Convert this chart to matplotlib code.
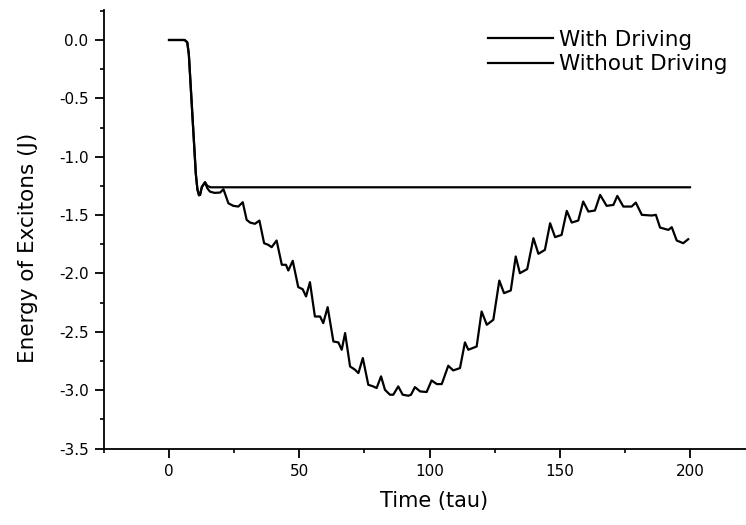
import matplotlib
matplotlib.use("Agg")
import matplotlib.pyplot as plt
from matplotlib.ticker import MultipleLocator, FormatStrFormatter

plt.rcParams['font.family'] = ['DejaVu Sans']
plt.rcParams['axes.unicode_minus'] = False

# ---- data ----
t_with = [0, 6.0, 7.0, 7.6, 10.3, 10.9, 11.5, 11.9, 12.6, 13.8, 14.7, 15.7, 17.5, 19.6, 20.9,
          22.8, 24.7, 26.6, 28.3, 29.8, 31.1, 33.0, 34.7, 36.5, 38.1, 39.4, 41.3,
          43.3, 44.9, 45.8, 47.5, 49.6, 51.3, 52.6, 54.1, 56.0, 58.0, 59.2, 60.9,
          63.1, 65.0, 66.3, 67.6, 69.5, 71.4, 72.7, 74.4, 76.5, 78.4, 79.7, 81.4,
          82.9, 84.8, 86.1, 88.0, 89.7, 91.9, 92.9, 94.4, 96.4, 98.9, 100.8, 102.8,
          104.7, 107.2, 109.1, 111.7, 113.6, 114.9, 118.1, 120.0, 122.0, 124.5,
          126.8, 128.6, 131.2, 133.1, 134.7, 137.5, 139.9, 141.8, 144.3, 146.3,
          148.2, 150.7, 152.7, 154.6, 157.1, 159.0, 161.0, 163.5, 165.5, 168.0,
          170.6, 172.1, 174.4, 177.6, 179.2, 181.5, 185.3, 186.9, 188.5, 191.7,
          193.0, 194.9, 197.4, 199.3]
e_with = [0.0, 0.0, -0.02, -0.12, -1.15, -1.28, -1.33, -1.327, -1.26, -1.219, -1.27, -1.299, -1.31, -1.307, -1.279,
          -1.399, -1.421, -1.427, -1.390, -1.541, -1.564, -1.575, -1.547, -1.741, -1.755, -1.775, -1.718,
          -1.926, -1.926, -1.975, -1.892, -2.117, -2.135, -2.197, -2.075, -2.369, -2.369, -2.426, -2.289,
          -2.583, -2.591, -2.654, -2.511, -2.797, -2.825, -2.854, -2.725, -2.954, -2.968, -2.982, -2.882,
          -2.997, -3.039, -3.039, -2.968, -3.039, -3.048, -3.039, -2.974, -3.011, -3.016, -2.917, -2.948,
          -2.948, -2.791, -2.831, -2.811, -2.591, -2.654, -2.626, -2.326, -2.440, -2.397,
          -2.061, -2.169, -2.146, -1.855, -1.998, -1.963, -1.698, -1.832, -1.798, -1.570,
          -1.689, -1.670, -1.464, -1.564, -1.547, -1.384, -1.470, -1.461, -1.327, -1.421,
          -1.413, -1.336, -1.427, -1.427, -1.393, -1.498, -1.504, -1.498, -1.607, -1.627,
          -1.604, -1.718, -1.741, -1.707]

t_without = [0, 6.0, 7.0, 7.6, 10.3, 10.9, 11.5, 11.9, 12.6, 13.8, 14.7, 16.0, 200.0]
e_without = [0.0, 0.0, -0.02, -0.12, -1.15, -1.28, -1.33, -1.327, -1.26, -1.219, -1.25, -1.262, -1.262]

labels = ["With Driving", "Without Driving"]

# ---- figure ----
W, H = 746, 525
fig = plt.figure(figsize=(W / 100, H / 100), dpi=100)
left_px, right_px = 103.9, 746.0
top_px, bot_px = 10.0, 448.5
ax = fig.add_axes([left_px / W, 1 - bot_px / H, (right_px - left_px) / W, (bot_px - top_px) / H])

ax.plot(t_with, e_with, color='black', lw=1.6, label=labels[0])
ax.plot(t_without, e_without, color='black', lw=1.6, label=labels[1])

ax.set_xlim(-25, 221.5)
ax.set_ylim(-3.5, 0.257)

for s in ['top', 'right']:
    ax.spines[s].set_visible(False)
for s in ['left', 'bottom']:
    ax.spines[s].set_linewidth(1.3)

ax.xaxis.set_major_locator(MultipleLocator(50))
ax.xaxis.set_minor_locator(MultipleLocator(25))
ax.yaxis.set_major_locator(MultipleLocator(0.5))
ax.yaxis.set_minor_locator(MultipleLocator(0.25))
ax.yaxis.set_major_formatter(FormatStrFormatter('%.1f'))

ax.tick_params(axis='both', which='major', direction='out', length=6.5, width=1.3,
               labelsize=11, pad=4.5)
ax.tick_params(axis='both', which='minor', direction='out', length=3, width=1.2)

ax.set_xlabel("Time (tau)", fontsize=15)
ax.set_ylabel("Energy of Excitons (J)", fontsize=15.5)
ax.xaxis.set_label_coords((434 - left_px) / (right_px - left_px), -(491 - bot_px) / (bot_px - top_px))
ax.yaxis.set_label_coords((38 - left_px) / (right_px - left_px), (bot_px - 248) / (bot_px - top_px))

ax.legend(loc='upper left', bbox_to_anchor=(488 / W, 1 - 30 / H), bbox_transform=fig.transFigure,
          frameon=False, fontsize=15.5, handlelength=3.0, handletextpad=0.3,
          labelspacing=0.2, borderpad=0, borderaxespad=0)

fig.savefig("out.png", dpi=100)
